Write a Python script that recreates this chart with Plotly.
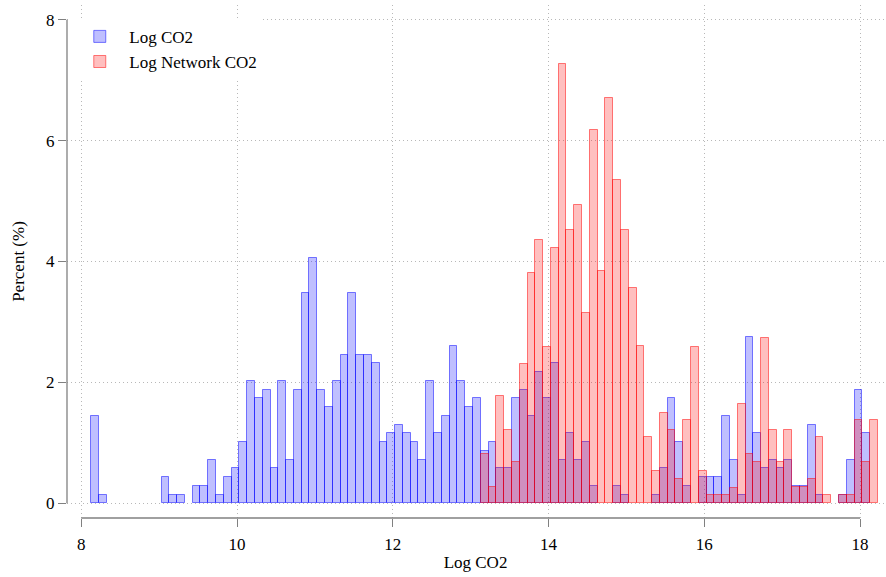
import numpy as np
import plotly.graph_objects as go

# Histogram bins: 101 bins of width 0.1 starting at 8.13
bin_start = 8.13
bin_width = 0.1
n_bins = 101

# Percent of observations per bin
log_co2 = [
    1.44, 0.14, 0, 0, 0, 0, 0, 0, 0, 0.43,
    0.14, 0.14, 0, 0.29, 0.29, 0.72, 0.14, 0.43, 0.58, 1.01,
    2.03, 1.74, 1.88, 0.58, 2.03, 0.72, 1.88, 3.48, 4.06, 1.88,
    1.59, 2.03, 2.46, 3.48, 2.46, 2.46, 2.32, 1.01, 1.16, 1.30,
    1.16, 1.01, 0.72, 2.03, 1.16, 1.45, 2.61, 2.03, 1.59, 1.74,
    0.87, 1.01, 0.58, 0.58, 1.74, 1.88, 1.45, 2.17, 1.74, 2.32,
    0.72, 1.16, 0.72, 1.01, 0.29, 0, 0, 0.29, 0.14, 0,
    0, 0, 0.14, 0.58, 1.74, 1.01, 0.29, 0, 0.43, 0.43,
    0.43, 1.45, 0.72, 0.14, 2.75, 1.16, 0.58, 0.72, 0.58, 0.72,
    0.29, 0.29, 1.30, 0.14, 0, 0, 0.14, 0.72, 1.88, 1.16,
    0,
]

log_network_co2 = [0] * 50 + [
    0.82, 0.27, 1.77, 1.22, 0.68, 2.31, 3.81, 4.35, 2.59, 4.22,
    7.26, 4.52, 4.94, 3.15, 6.17, 3.84, 6.71, 5.34, 4.52, 3.56,
    2.60, 1.09, 0.54, 1.50, 1.22, 0.40, 1.37, 2.59, 0.54, 0.13,
    0.13, 0.13, 0.26, 1.64, 0.81, 0.68, 2.74, 1.22, 0.68, 1.22,
    0.27, 0.27, 0.40, 1.09, 0.13, 0, 0.13, 0.13, 1.37, 0.68,
    1.37,
]

x_ticks = [8, 10, 12, 14, 16, 18]
y_ticks = [0, 2, 4, 6, 8]

centers = bin_start + bin_width * (np.arange(n_bins) + 0.5)


def nonzero(vals):
    # empty bins are not drawn
    return [v if v > 0 else None for v in vals]


FONT = "Liberation Serif"
AXIS_GRAY = "#808080"
GRID = "#b8b8b8"

fig = go.Figure()
fig.add_trace(go.Bar(
    x=centers, y=nonzero(log_co2), width=bin_width, name="Log CO2",
    marker=dict(color="rgba(0,0,255,0.25)",
                line=dict(color="rgba(0,0,255,0.5)", width=1)),
))
fig.add_trace(go.Bar(
    x=centers, y=nonzero(log_network_co2), width=bin_width, name="Log Network CO2",
    marker=dict(color="rgba(255,0,0,0.25)",
                line=dict(color="rgba(255,0,0,0.5)", width=1)),
))

axis_common = dict(
    showline=False, zeroline=False, ticks="outside", ticklen=8,
    tickcolor=AXIS_GRAY, tickwidth=1.3, automargin=False,
    showgrid=True, gridcolor=GRID, griddash="1px,3px", gridwidth=1,
    tickfont=dict(family=FONT, size=17, color="black"),
)

fig.update_layout(
    width=886, height=577,
    margin=dict(l=67, r=2, t=5, b=59),
    paper_bgcolor="white", plot_bgcolor="white",
    barmode="overlay", bargap=0,
    font=dict(family=FONT, size=17, color="black"),
    showlegend=True,
    legend=dict(x=0.004, y=0.973, xanchor="left", yanchor="top",
                bgcolor="white", borderwidth=0, itemwidth=49,
                font=dict(family=FONT, size=17, color="black")),
    xaxis=dict(range=[7.8164, 18.308], tickvals=x_ticks, ticklabelstandoff=3,
               title=dict(text="Log CO2", standoff=2,
                          font=dict(family=FONT, size=17)),
               **axis_common),
    yaxis=dict(range=[-0.2432, 8.243], tickvals=y_ticks,
               title=dict(text="Percent (%)", standoff=17,
                          font=dict(family=FONT, size=17)),
               **axis_common),
    shapes=[
        dict(type="line", xref="x", yref="paper", x0=x_ticks[0], x1=x_ticks[-1],
             y0=0, y1=0, line=dict(color=AXIS_GRAY, width=1.3), layer="above"),
        dict(type="line", xref="paper", yref="y", x0=0, x1=0,
             y0=y_ticks[0], y1=y_ticks[-1], line=dict(color=AXIS_GRAY, width=1.3),
             layer="above"),
    ],
)

fig.write_html("out.html")
